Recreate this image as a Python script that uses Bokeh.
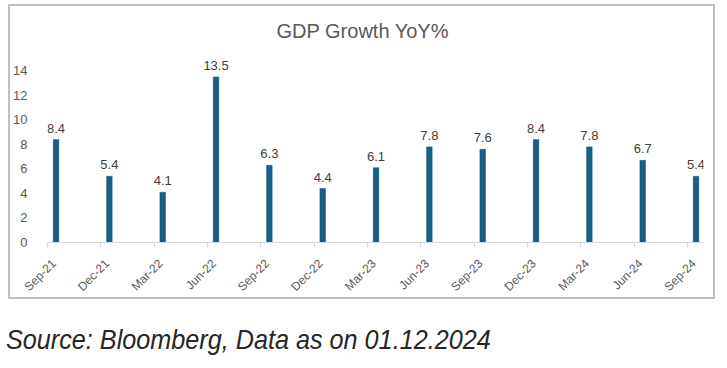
import math
from bokeh.plotting import figure
from bokeh.models import (ColumnDataSource, FixedTicker, LabelSet, Div, Range1d,
                          LinearAxis, CustomJSTickFormatter)
from bokeh.core.properties import value
from bokeh.layouts import column
from bokeh.embed import file_html
from bokeh.resources import INLINE

quarters = ["Sep-21", "Dec-21", "Mar-22", "Jun-22", "Sep-22", "Dec-22", "Mar-23",
            "Jun-23", "Sep-23", "Dec-23", "Mar-24", "Jun-24", "Sep-24"]
gdp_growth = [8.4, 5.4, 4.1, 13.5, 6.3, 4.4, 6.1, 7.8, 7.6, 8.4, 7.8, 6.7, 5.4]
y_ticks = [0, 2, 4, 6, 8, 10, 12, 14]
title_text = "GDP Growth YoY%"
source_text = "Source: Bloomberg, Data as on 01.12.2024"

BAR_OFFSET = 0.16
LABEL_OFFSET = 0.12
idx = list(range(len(quarters)))
src = ColumnDataSource(dict(
    x=[i + BAR_OFFSET for i in idx],
    y=gdp_growth,
    label=[f"{v:.1f}" for v in gdp_growth],
))

p = figure(width=707, height=295, output_backend="svg", toolbar_location=None,
           x_range=Range1d(0, 12.3), y_range=Range1d(0, 15.5),
           min_border_left=35, min_border_right=14, min_border_top=46, min_border_bottom=57,
           title=title_text)

xa = p.below[0]
ya = p.left[0]

# default bottom axis: tick marks only
xa.ticker = FixedTicker(ticks=idx)
xa.major_label_text_font_size = "0px"
xa.major_label_text_color = None
xa.major_label_standoff = 0
xa.axis_line_color = "#d9d9d9"
xa.major_tick_line_color = "#d9d9d9"
xa.major_tick_in = 0
xa.major_tick_out = 5
xa.minor_tick_line_color = None

# axis carrying the rotated category labels
xl = LinearAxis(ticker=FixedTicker(ticks=[i + LABEL_OFFSET for i in idx]),
                formatter=CustomJSTickFormatter(args=dict(labels=quarters),
                                                code="return labels[Math.round(tick)]"))
xl.axis_line_color = None
xl.major_tick_line_color = None
xl.minor_tick_line_color = None
xl.major_label_orientation = math.pi / 4
xl.major_label_text_font = "Liberation Sans"
xl.major_label_text_font_size = "12px"
xl.major_label_text_color = "#595959"
xl.major_label_standoff = 8
p.add_layout(xl, "below")

p.title.align = "left"
p.title.offset = 229
p.title.standoff = 22
p.title.text_font = "Liberation Sans"
p.title.text_font_size = "20px"
p.title.text_font_style = "normal"
p.title.text_color = "#595959"

p.vbar(x="x", top="y", width=0.105, source=src, fill_color="#175E82",
       line_color="#175E82", line_width=0.5)

labels = LabelSet(x="x", y="y", text="label", source=src, text_align="center",
                  text_baseline="bottom", y_offset=7, text_font=value("Liberation Sans"),
                  text_font_size="13px", text_color="#404040")
p.add_layout(labels)

p.xgrid.visible = False
p.ygrid.visible = False
p.outline_line_color = None

ya.ticker = FixedTicker(ticks=y_ticks)
ya.axis_line_color = None
ya.major_tick_line_color = None
ya.minor_tick_line_color = None
ya.major_label_text_font = "Liberation Sans"
ya.major_label_text_font_size = "13px"
ya.major_label_text_color = "#595959"
ya.major_label_standoff = 14

p.styles = {"border": "2px solid #bfbfbf"}

div = Div(text=source_text, width=707, height=36,
          styles={"font-family": "'Liberation Sans', sans-serif",
                  "font-style": "italic", "font-size": "28px", "line-height": "36px",
                  "color": "#262626", "margin-top": "23px", "margin-left": "-2px",
                  "white-space": "nowrap",
                  "transform": "scaleX(0.9)", "transform-origin": "left center"})

layout = column(p, div, spacing=0)
layout.styles = {"margin-left": "8px", "margin-top": "4px"}
open("out.html", "w").write(file_html(layout, INLINE))
